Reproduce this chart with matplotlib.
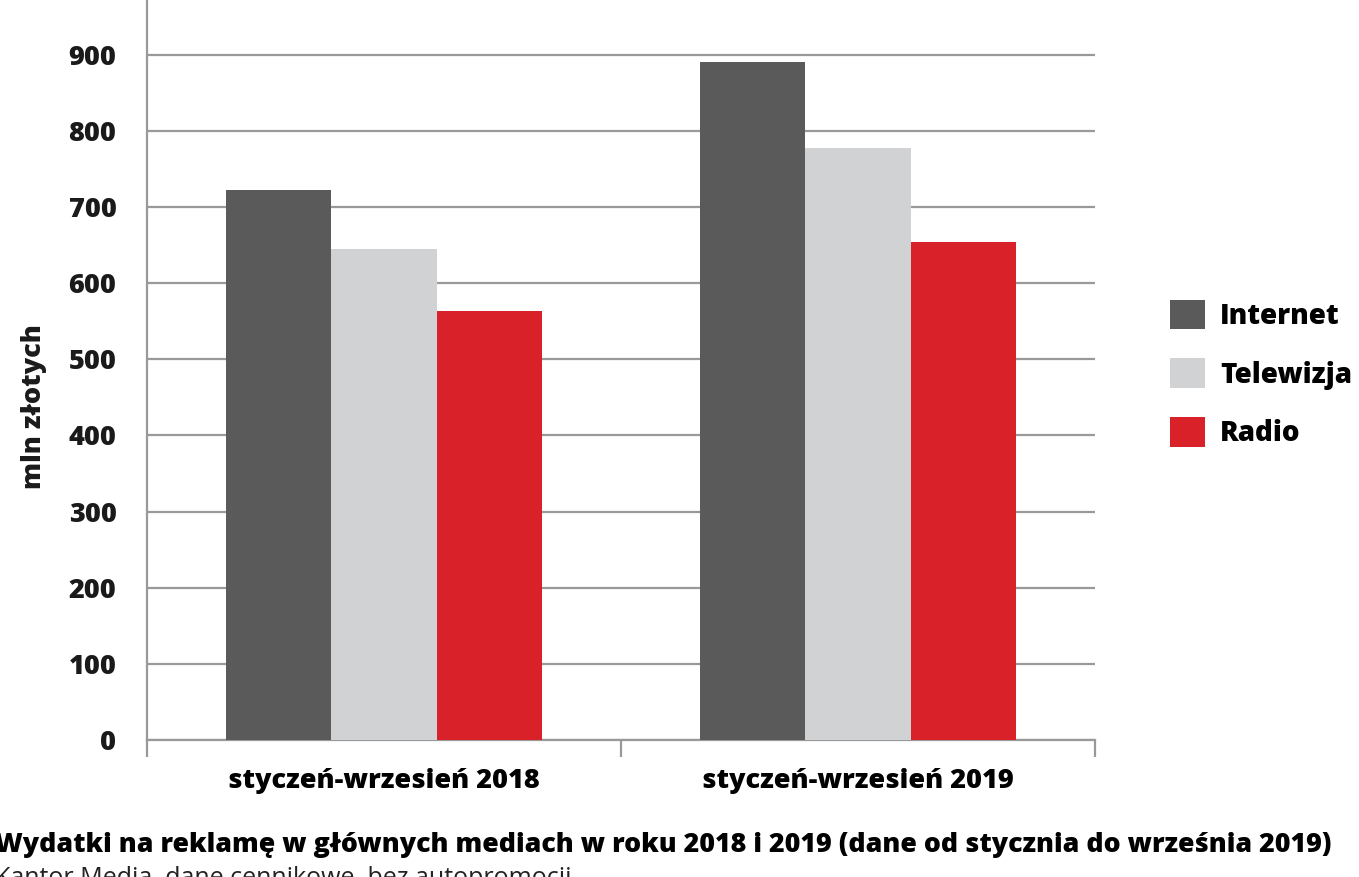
import matplotlib.pyplot as plt
import numpy as np
from matplotlib.patches import Patch

plt.rcParams['font.family'] = ['Open Sans', 'DejaVu Sans']

categories = ['styczeń-wrzesień 2018', 'styczeń-wrzesień 2019']
series = ['Internet', 'Telewizja', 'Radio']
internet = [723, 890]
telewizja = [645, 778]
radio = [564, 654]
colors = ['#5a5a5a', '#d1d2d4', '#d9212a']

W = 'heavy'
fig = plt.figure(figsize=(13.59, 8.77), dpi=100)
ax = fig.add_axes([147/1359, 1 - 740/877, (1095-147)/1359, 740/877])

x = np.arange(len(categories))
w = 0.222
for i, (vals, c) in enumerate(zip([internet, telewizja, radio], colors)):
    ax.bar(x + (i - 1) * w, vals, w, color=c, zorder=3)

ax.set_xlim(-0.5, 1.5)
ax.set_ylim(0, 972)
ax.set_yticks(range(0, 1000, 100))
ax.yaxis.grid(True, color='#999999', linewidth=1.6, zorder=0)
ax.set_axisbelow(True)
for s in ['top', 'right']:
    ax.spines[s].set_visible(False)
for s in ['left', 'bottom']:
    ax.spines[s].set_color('#999999')
    ax.spines[s].set_linewidth(1.6)

ax.set_xticks([-0.5, 0.5, 1.5])
ax.set_xticklabels([])
ax.set_xticks(x, minor=True)
ax.set_xticklabels(categories, minor=True, fontsize=19.5, fontweight=W)
ax.tick_params(axis='x', which='major', length=12, width=1.6, color='#999999', direction='out')
ax.tick_params(axis='x', which='minor', length=0, pad=20)
ax.tick_params(axis='y', length=0, pad=22, labelsize=19.5)
for lab in ax.get_yticklabels():
    lab.set_fontweight(W)
    lab.set_color('#1a1a1a')

fig.text(34/1359, 1 - 407/877, 'mln złotych', rotation=90, ha='center', va='center',
         fontsize=19.5, fontweight=W, color='#1a1a1a')

handles = [Patch(facecolor=c, label=s) for c, s in zip(colors, series)]
fig.legend(handles=handles, loc='center left', bbox_to_anchor=(1145/1359, 1 - 374/877),
           frameon=False, handlelength=1.25, handleheight=1.25,
           labelspacing=1.0, handletextpad=0.55, prop={'weight': W, 'size': 20})

fig.text(-5/1359, 1 - 845/877, 'Wydatki na reklamę w głównych mediach w roku 2018 i 2019 (dane od stycznia do września 2019)',
         ha='left', va='center', fontsize=19.3, fontweight=W, color='black')
fig.text(-5/1359, 1 - 866/877, 'Kantor Media, dane cennikowe, bez autopromocji',
         ha='left', va='top', fontsize=18, color='#222222')

fig.savefig('out.png', dpi=100)
